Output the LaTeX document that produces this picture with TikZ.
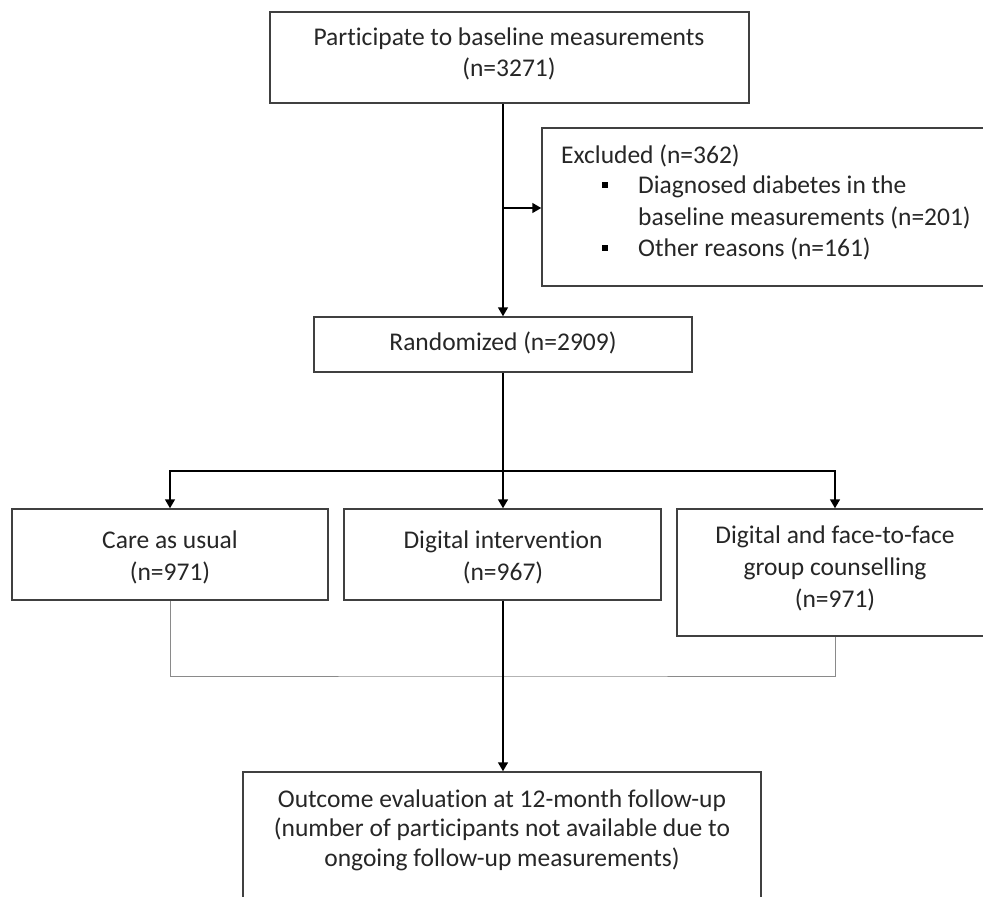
\documentclass[tikz,border=0pt]{standalone}
\usepackage{fontspec}
\setmainfont{Carlito}[Ligatures={NoCommon}]
\usetikzlibrary{arrows.meta}
\definecolor{boxline}{HTML}{404040}
\definecolor{txt}{HTML}{262626}
\definecolor{thin}{HTML}{8A8A8A}
\tikzset{
  box/.style={draw=boxline, line width=1.5pt, inner sep=0pt, fill=none},
  lbl/.style={anchor=base, inner sep=0pt, text=txt, font=\fontsize{25.5}{30}\selectfont},
  lbll/.style={anchor=base west, inner sep=0pt, text=txt, font=\fontsize{25.5}{30}\selectfont},
  arr/.style={draw=black, line width=1.6pt, -{Triangle[width=10pt,length=9pt]}},
  conn/.style={draw=thin, line width=1pt},
  bul/.style={fill=black, minimum size=6pt, inner sep=0pt}
}
\begin{document}
\begin{tikzpicture}[x=1pt,y=-1pt]
\useasboundingbox (0,0) rectangle (983,897);
% boxes
\node[box, minimum width=479pt, minimum height=91pt] (top) at (509.5,57.5) {};
\node[box, minimum width=451pt, minimum height=158pt] (excl) at (767.5,207) {};
\node[box, minimum width=378pt, minimum height=55pt] (rnd) at (503,344.5) {};
\node[box, minimum width=316pt, minimum height=91pt] (care) at (170,554.5) {};
\node[box, minimum width=317pt, minimum height=91pt] (dig) at (502.5,554.5) {};
\node[box, minimum width=316pt, minimum height=127pt] (dff) at (835,572.5) {};
\node[box, minimum width=518pt, minimum height=150pt] (out) at (502,847) {};
% texts
\node[lbl] (t1) at (509,45) {Participate to baseline measurements};
\node[lbl] (t2) at (509,76) {(n=3271)};
\node[lbll] (e0) at (561,163) {Excluded (n=362)};
\node[bul] (b1) at (605,185) {};
\node[lbll] (e1) at (638,193) {Diagnosed diabetes in the};
\node[lbll] (e2) at (638,225) {baseline measurements (n=201)};
\node[bul] (b2) at (605,248) {};
\node[lbll] (e3) at (638,256) {Other reasons (n=161)};
\node[lbl] (r1) at (503,350) {Randomized (n=2909)};
\node[lbl] (c1) at (170,548) {Care as usual};
\node[lbl] (c2) at (170,580) {(n=971)};
\node[lbl] (d1) at (503,548) {Digital intervention};
\node[lbl] (d2) at (503,580) {(n=967)};
\node[lbl] (f1) at (835,543) {Digital and face-to-face};
\node[lbl] (f2) at (835,575) {group counselling};
\node[lbl] (f3) at (835,607) {(n=971)};
\node[lbl] (o1) at (502,807) {Outcome evaluation at 12-month follow-up};
\node[lbl] (o2) at (502,836) {(number of participants not available due to};
\node[lbl] (o3) at (502,866) {ongoing follow-up measurements)};
% connectors
\coordinate (br) at (503,208);
\coordinate (spl) at (503,471);
\coordinate (jn) at (503,676);
\draw[arr] (top.south -| rnd.north) -- (rnd.north);
\draw[arr] (br) -- (br -| excl.west);
\draw[arr] (rnd.south) -- (dig.north -| rnd.south);
\draw[arr] (spl) -| (care.north);
\draw[arr] (spl) -| (dff.north);
\draw[conn] (care.south) |- (jn) -| (dff.south);
\draw[arr] (dig.south -| rnd.south) -- (out.north -| rnd.south);
\end{tikzpicture}
\end{document}
